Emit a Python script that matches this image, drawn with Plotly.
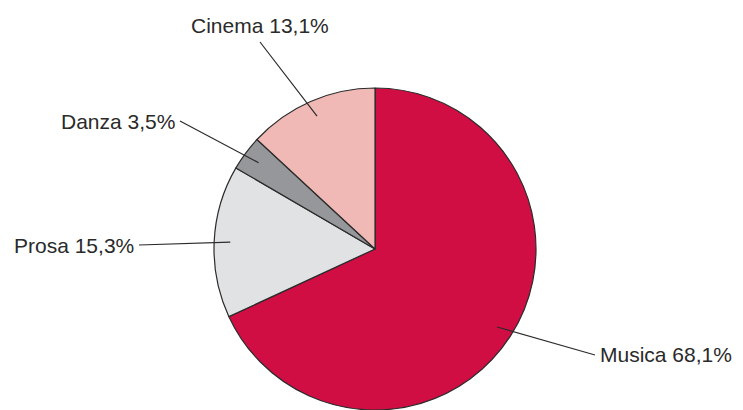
import math

import plotly.graph_objects as go

# data
labels = ["Musica", "Prosa", "Danza", "Cinema"]
shares = [68.1, 15.3, 3.5, 13.1]
colors = ["#D10E44", "#E1E2E4", "#96979A", "#F0B9B5"]

# the page body has an 8px margin, so the figure is drawn a bit smaller
OFF = 8
W, H = 743 - OFF, 410 - OFF
TOP = 80
CX, CY, R = 375 - OFF, 249 - OFF, 161

# where each label text sits (page pixels) and how it is anchored
label_pos = {
    "Musica": (595, 355, "left", "middle"),
    "Prosa": (139, 245, "right", "middle"),
    "Danza": (180, 121, "right", "middle"),
    "Cinema": (260, 42, "center", "bottom"),
}

fig = go.Figure()
fig.add_trace(go.Pie(
    labels=labels,
    values=shares,
    sort=False,
    direction="clockwise",
    rotation=0,
    textinfo="none",
    hoverinfo="label+percent",
    marker=dict(colors=colors, line=dict(color="#2b2b2b", width=1.2)),
    domain=dict(x=[(CX - 200) / W, (CX + 200) / W], y=[0, 1]),
    showlegend=False,
))


def to_paper(px, py):
    return px / W, (H - py) / (H - TOP)


total = sum(shares)
cum = 0.0
for lab, v in zip(labels, shares):
    mid = (cum + v / 2) / total * 2 * math.pi
    cum += v
    hx = CX + 0.9 * R * math.sin(mid)
    hy = CY - 0.9 * R * math.cos(mid)
    tx, ty, xa, ya = label_pos[lab]
    tx, ty = tx - OFF, ty - OFF
    x, y = to_paper(hx, hy)
    fig.add_annotation(
        x=x, y=y, xref="paper", yref="paper",
        ax=tx - hx, ay=ty - hy,
        text=f"{lab} {str(v).replace('.', ',')}%",
        showarrow=True, arrowhead=0, arrowwidth=1.2, arrowcolor="#2b2b2b",
        xanchor=xa, yanchor=ya, borderpad=4,
        font=dict(size=21, color="#2a2a2a"),
    )

fig.update_layout(
    width=W,
    height=H,
    margin=dict(l=0, r=0, t=TOP, b=0),
    paper_bgcolor="white",
    plot_bgcolor="white",
    font=dict(family="Liberation Sans, Arial, sans-serif"),
)

fig.write_html("out.html")
